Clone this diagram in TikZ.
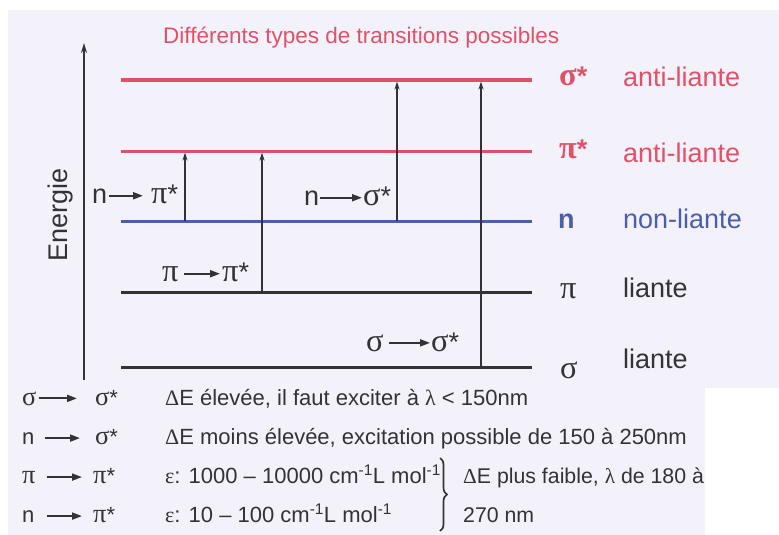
\documentclass[tikz,border=0pt]{standalone}
\usepackage{fontspec}
\setmainfont{Liberation Sans}
\newfontfamily\gr[Scale=1.2]{Liberation Serif}
\newfontfamily\grs{Liberation Serif}
\usetikzlibrary{arrows.meta,decorations.pathreplacing}
\definecolor{bg}{RGB}{243,242,250}
\definecolor{lvred}{RGB}{226,80,106}
\definecolor{lvblue}{RGB}{74,94,172}
\definecolor{ink}{RGB}{50,50,55}
\newcommand\stt{{\normalfont *}}
\begin{document}
\begin{tikzpicture}[x=1pt,y=-1pt,
  lbl/.style={inner sep=0pt, anchor=base west, text=ink},
  dlab/.style={lbl, font=\fontsize{27}{30}\selectfont},
  tlab/.style={lbl, font=\fontsize{22}{26}\selectfont},
  lev/.style={line width=3pt},
  axisline/.style={line width=2.4pt, draw=ink, -{Stealth[length=10pt,width=6pt]}},
  trans/.style={line width=1.6pt, draw=ink, -{Stealth[length=8pt,width=5pt]}},
  tarr/.style={line width=1.9pt, draw=ink, -{Triangle[length=10pt,width=7pt]}},
]
\useasboundingbox (0,0) rectangle (779,535);
\fill[bg] (8,10) rectangle (779,535);
\fill[white] (705,388) rectangle (779,535);

% title
\node[lbl, text=lvred, font=\fontsize{22.5}{26}\selectfont] (title) at (163,44) {Différents types de transitions possibles};

% energy axis
\coordinate (ax0) at (84,380);
\coordinate (ax1) at (84,43);
\draw[axisline] (ax0) -- (ax1);
\node[dlab, rotate=90] (energie) at (67,262) {Energie};

% levels
\coordinate (ssL) at (121,80);  \coordinate (ssR) at (532,80);
\coordinate (psL) at (121,151); \coordinate (psR) at (532,151);
\coordinate (nL)  at (121,221); \coordinate (nR)  at (532,221);
\coordinate (pL)  at (121,292); \coordinate (pR)  at (532,292);
\coordinate (sL)  at (121,367); \coordinate (sR)  at (532,367);
\draw[lev, lvred] (ssL) -- (ssR);
\draw[lev, lvred] (psL) -- (psR);
\draw[lev, lvblue] (nL) -- (nR);
\draw[lev, ink] (pL) -- (pR);
\draw[lev, ink] (sL) -- (sR);

% transitions
\coordinate (a1s) at (185,221); \coordinate (a1e) at (185,152.5);
\coordinate (a2s) at (262,292); \coordinate (a2e) at (262,152.5);
\coordinate (a3s) at (397,221); \coordinate (a3e) at (397,81.5);
\coordinate (a4s) at (481,367); \coordinate (a4e) at (481,81.5);
\draw[trans] (a1s) -- (a1e);
\draw[trans] (a2s) -- (a2e);
\draw[trans] (a3s) -- (a3e);
\draw[trans] (a4s) -- (a4e);

% transition labels
\node[dlab] (t1a) at (92,203) {n};
\node[dlab] (t1b) at (151,203) {{\gr π}\stt};
\draw[tarr] ([xshift=1.5pt]t1a.east) -- ([xshift=-8pt]t1a.east -| t1b.west);
\node[dlab] (t2a) at (304,205) {n};
\node[dlab] (t2b) at (363,205) {{\gr σ}\stt};
\draw[tarr] ([xshift=1pt]t2a.east) -- ([xshift=-1pt]t2a.east -| t2b.west);
\node[dlab] (t3a) at (162,281) {\gr π};
\node[dlab] (t3b) at (222,281) {{\gr π}\stt};
\draw[tarr] ([xshift=5pt]t3a.east) -- ([xshift=-2pt]t3a.east -| t3b.west);
\node[dlab] (t4a) at (366,351) {\gr σ};
\node[dlab] (t4b) at (431,351) {{\gr σ}\stt};
\draw[tarr] ([xshift=5pt]t4a.east) -- ([xshift=-1pt]t4a.east -| t4b.west);

% right labels
\node[dlab, text=lvred] (r1) at (559,85) {{\gr\bfseries σ}\bfseries*};
\node[dlab, text=lvred] (r1t) at (623,86) {anti-liante};
\node[dlab, text=lvred] (r2) at (559,158) {{\gr\bfseries π}\bfseries*};
\node[dlab, text=lvred] (r2t) at (623,162) {anti-liante};
\node[dlab, text=lvblue] (r3) at (558,228) {\bfseries n};
\node[dlab, text=lvblue] (r3t) at (623,228) {non-liante};
\node[dlab] (r4) at (560,298) {\gr π};
\node[dlab] (r4t) at (623,297) {liante};
\node[dlab] (r5) at (560,378) {\gr σ};
\node[dlab] (r5t) at (623,368) {liante};

% table
\node[tlab] (b1a) at (22,405) {\gr σ};
\node[tlab] (b1b) at (95,405) {{\gr σ}\stt};
\draw[tarr] ([xshift=2pt]b1a.east) -- ([xshift=-18pt]b1a.east -| b1b.west);
\node[tlab] (b1c) at (165,405) {{\grs Δ}E élevée, il faut exciter à {\grs λ} < 150nm};

\node[tlab] (b2a) at (22,444) {n};
\node[tlab] (b2b) at (95,444) {{\gr σ}\stt};
\draw[tarr] ([xshift=10pt]b2a.east) -- ([xshift=-15pt]b2a.east -| b2b.west);
\node[tlab] (b2c) at (165,444) {{\grs Δ}E moins élevée, excitation possible de 150 à 250nm};

\node[tlab] (b3a) at (22,483) {\gr π};
\node[tlab] (b3b) at (93,483) {{\gr π}\stt};
\draw[tarr] ([xshift=11pt]b3a.east) -- ([xshift=-11pt]b3a.east -| b3b.west);
\node[tlab] (b3c) at (165,483) {{\grs ε}: 1000 – 10000 cm\textsuperscript{-1}L mol\textsuperscript{-1}};

\node[tlab] (b4a) at (22,522) {n};
\node[tlab] (b4b) at (93,522) {{\gr π}\stt};
\draw[tarr] ([xshift=12pt]b4a.east) -- ([xshift=-11pt]b4a.east -| b4b.west);
\node[tlab] (b4c) at (165,522) {{\grs ε}: 10 – 100 cm\textsuperscript{-1}L mol\textsuperscript{-1}};

\coordinate (brT) at (440,458);
\coordinate (brB) at (440,531);
\draw[ink, line width=1.7pt, decorate, decoration={brace, amplitude=7pt}] (brT) -- (brB);
\node[tlab, font=\fontsize{21.3}{26}\selectfont] (bc1) at (463,483) {{\grs Δ}E plus faible, {\grs λ} de 180 à};
\node[tlab, font=\fontsize{21.3}{26}\selectfont] (bc2) at (463,522) {270 nm};
\end{tikzpicture}
\end{document}
